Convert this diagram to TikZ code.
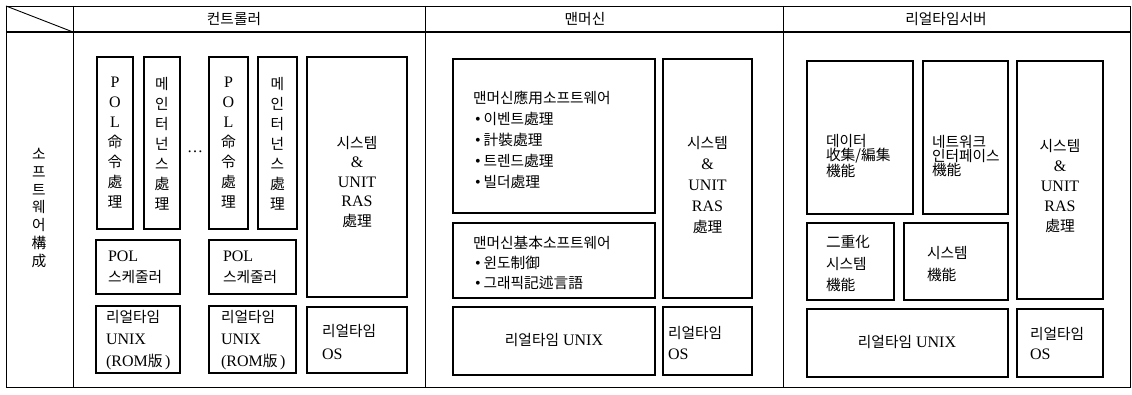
\documentclass[tikz,border=0pt]{standalone}
\usepackage{fontspec}
\setmainfont{Liberation Serif}
\newfontfamily\kr{Noto Sans CJK KR}[Scale=0.92]
\newcommand\K[1]{{\kr #1}}
\tikzset{
  frameline/.style={line width=0.9pt},
  boxline/.style={line width=1.7pt},
  txt/.style={inner sep=0pt, outer sep=0pt, font=\fontsize{16}{20}\selectfont},
  lt/.style={txt, anchor=west, align=left},
  ct/.style={txt, align=center},
}
\begin{document}
\begin{tikzpicture}[x=1pt,y=-1pt]
\useasboundingbox (0,0) rectangle (1132,395);
\fill[white] (0,0) rectangle (1132,395);
% frame
\draw[frameline] (6,6) rectangle (1130,387);
\draw[line width=1.2pt] (6,32) -- (1130,32);
\draw[frameline] (73,6) -- (73,387);
\draw[frameline] (425,6) -- (425,387);
\draw[frameline] (783,6) -- (783,387);
\draw[frameline] (6,6) -- (73,32);
% headers
\node[ct] (hctrl) at (234,19) {\K{컨트롤러}};
\node[ct] (hmm) at (585,19) {\K{맨머신}};
\node[ct] (hsrv) at (946,19) {\K{리얼타임서버}};
\node[ct, font=\fontsize{16}{17.7}\selectfont] (left) at (39,208) {\K{소}\\\K{프}\\\K{트}\\\K{웨}\\\K{어}\\\K{構}\\\K{成}};
% ---------------- controller
\draw[boxline] (97,57) rectangle (133,229);
\draw[boxline] (144,57) rectangle (180,229);
\draw[boxline] (209,57) rectangle (248,229);
\draw[boxline] (258,57) rectangle (297,229);
\draw[boxline] (307,57) rectangle (407,297);
\draw[boxline] (96,240) rectangle (180,294);
\draw[boxline] (209,240) rectangle (296,294);
\draw[boxline] (96,306) rectangle (180,373);
\draw[boxline] (209,306) rectangle (296,373);
\draw[boxline] (307,307) rectangle (407,373);
\node[ct] (pol1) at (115,143) {P\\O\\L\\\K{命}\\\K{令}\\\K{處}\\\K{理}};
\node[ct] (mnt1) at (162,144) {\K{메}\\\K{인}\\\K{터}\\\K{넌}\\\K{스}\\\K{處}\\\K{理}};
\node[ct] (dots) at (195,152) {…};
\node[ct] (pol2) at (228.5,143) {P\\O\\L\\\K{命}\\\K{令}\\\K{處}\\\K{理}};
\node[ct] (mnt2) at (277.5,144) {\K{메}\\\K{인}\\\K{터}\\\K{넌}\\\K{스}\\\K{處}\\\K{理}};
\node[ct, font=\fontsize{16}{19.5}\selectfont] (sysc) at (357,182) {\K{시스템}\\\&\\UNIT\\RAS\\\K{處理}};
\node[lt, font=\fontsize{16}{21}\selectfont] (sch1) at (108,267) {POL\\\K{스케줄러}};
\node[lt, font=\fontsize{16}{21}\selectfont] (sch2) at (223,267) {POL\\\K{스케줄러}};
\node[lt, font=\fontsize{16}{22}\selectfont] (rom1) at (106,340) {\K{리얼타임}\\UNIX\\(ROM\K{版}\,)};
\node[lt, font=\fontsize{16}{22}\selectfont] (rom2) at (221,340) {\K{리얼타임}\\UNIX\\(ROM\K{版}\,)};
\node[lt, font=\fontsize{16}{23}\selectfont] (osc) at (322,341.5) {\K{리얼타임}\\OS};
% ---------------- man-machine
\draw[boxline] (453,59) rectangle (655,213);
\draw[boxline] (663,59) rectangle (752,298);
\draw[boxline] (453,223) rectangle (655,298);
\draw[boxline] (453,307) rectangle (655,375);
\draw[boxline] (663,307) rectangle (752,375);
\node[lt, font=\fontsize{16}{21}\selectfont] (app) at (473,139.5) {\K{맨머신應用소프트웨어}\\\hspace{2pt}•\hspace{3pt}\K{이벤트處理}\\\hspace{2pt}•\hspace{3pt}\K{計裝處理}\\\hspace{2pt}•\hspace{3pt}\K{트렌드處理}\\\hspace{2pt}•\hspace{3pt}\K{빌더處理}};
\node[lt, font=\fontsize{16}{20}\selectfont] (base) at (473,263) {\K{맨머신基本소프트웨어}\\\hspace{2pt}•\hspace{3pt}\K{윈도制御}\\\hspace{2pt}•\hspace{3pt}\K{그래픽記述言語}};
\node[ct, font=\fontsize{16}{21}\selectfont] (sysm) at (707.5,185) {\K{시스템}\\\&\\UNIT\\RAS\\\K{處理}};
\node[ct] (unixm) at (554,340) {\K{리얼타임}\ UNIX};
\node[lt, font=\fontsize{16}{21}\selectfont] (osm) at (668,342.5) {\K{리얼타임}\\OS};
% ---------------- server
\draw[boxline] (807,61) rectangle (913,214);
\draw[boxline] (923,61) rectangle (1008,214);
\draw[boxline] (1017,61) rectangle (1103,299);
\draw[boxline] (807,223) rectangle (894,300);
\draw[boxline] (904,223) rectangle (1008,300);
\draw[boxline] (807,309) rectangle (1008,377);
\draw[boxline] (1017,309) rectangle (1103,377);
\node[lt, font=\fontsize{16}{14}\selectfont] (data) at (826,156.5) {\K{데이터}\\\K{收集/編集}\\\K{機能}};
\node[lt, font=\fontsize{16}{14}\selectfont] (net) at (932,156.5) {\K{네트워크}\\\K{인터페이스}\\\K{機能}};
\node[ct, font=\fontsize{16}{20}\selectfont] (syss) at (1060,186) {\K{시스템}\\\&\\UNIT\\RAS\\\K{處理}};
\node[lt, font=\fontsize{16}{21.5}\selectfont] (dup) at (826,263.5) {\K{二重化}\\\K{시스템}\\\K{機能}};
\node[lt, font=\fontsize{16}{22}\selectfont] (sysf) at (927,264) {\K{시스템}\\\K{機能}};
\node[ct] (unixs) at (907,342) {\K{리얼타임}\ UNIX};
\node[lt, font=\fontsize{16}{20}\selectfont] (oss) at (1030,343) {\K{리얼타임}\\OS};
\end{tikzpicture}
\end{document}
